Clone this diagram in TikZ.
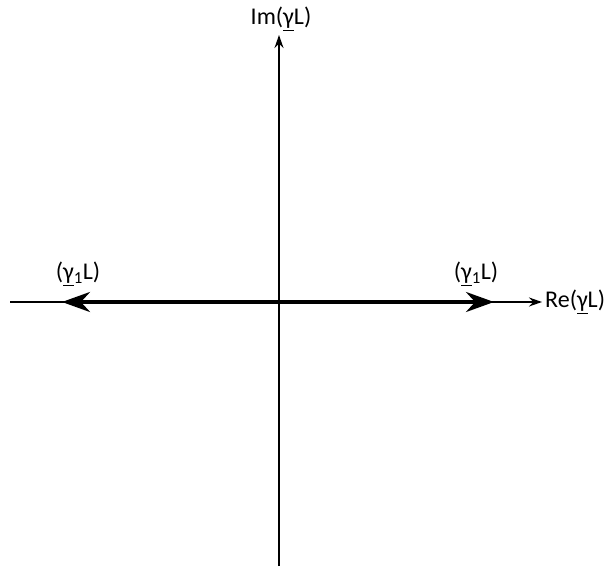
\documentclass[tikz,border=0pt]{standalone}
\usepackage{fontspec}
\setmainfont{Carlito}
\usetikzlibrary{arrows.meta}

\begin{document}
\begin{tikzpicture}[x=1pt, y=1pt,
  axis/.style={line width=1.6pt, -{Stealth[length=13pt, width=9pt]}},
  wave/.style={line width=3.6pt,
    {Stealth[length=28pt, width=20pt]}-{Stealth[length=28pt, width=20pt]}},
  label/.style={font=\fontsize{24}{28}\selectfont, inner sep=1pt}
]
\useasboundingbox (0,0) rectangle (614,574);

%% --- axis end points ---
\coordinate (origin) at (279,272);
\coordinate (bottom) at (279,8);
\coordinate (top)    at (279,539);
\coordinate (west)   at (10,272);
\coordinate (east)   at (542,272);

%% --- propagation constant tips ---
\coordinate (minus) at (62,272);
\coordinate (plus)  at (494,272);

%% --- axes ---
\draw[axis] (west) -- (east);
\draw[axis] (bottom) -- (top);

%% --- axis labels ---
\node[label, anchor=west] (re) at (544,272) {Re(\underline{γ}L)};
\node[label, anchor=south] (im) at (281,542) {Im(\underline{γ}L)};

%% --- +/- gamma_1 L ---
\draw[wave] (minus) -- (plus);
\node[label] (lminus) at (78,300) {(\underline{γ}\textsubscript{1}L)};
\node[label] (lplus)  at (476,300) {(\underline{γ}\textsubscript{1}L)};

\end{tikzpicture}
\end{document}
